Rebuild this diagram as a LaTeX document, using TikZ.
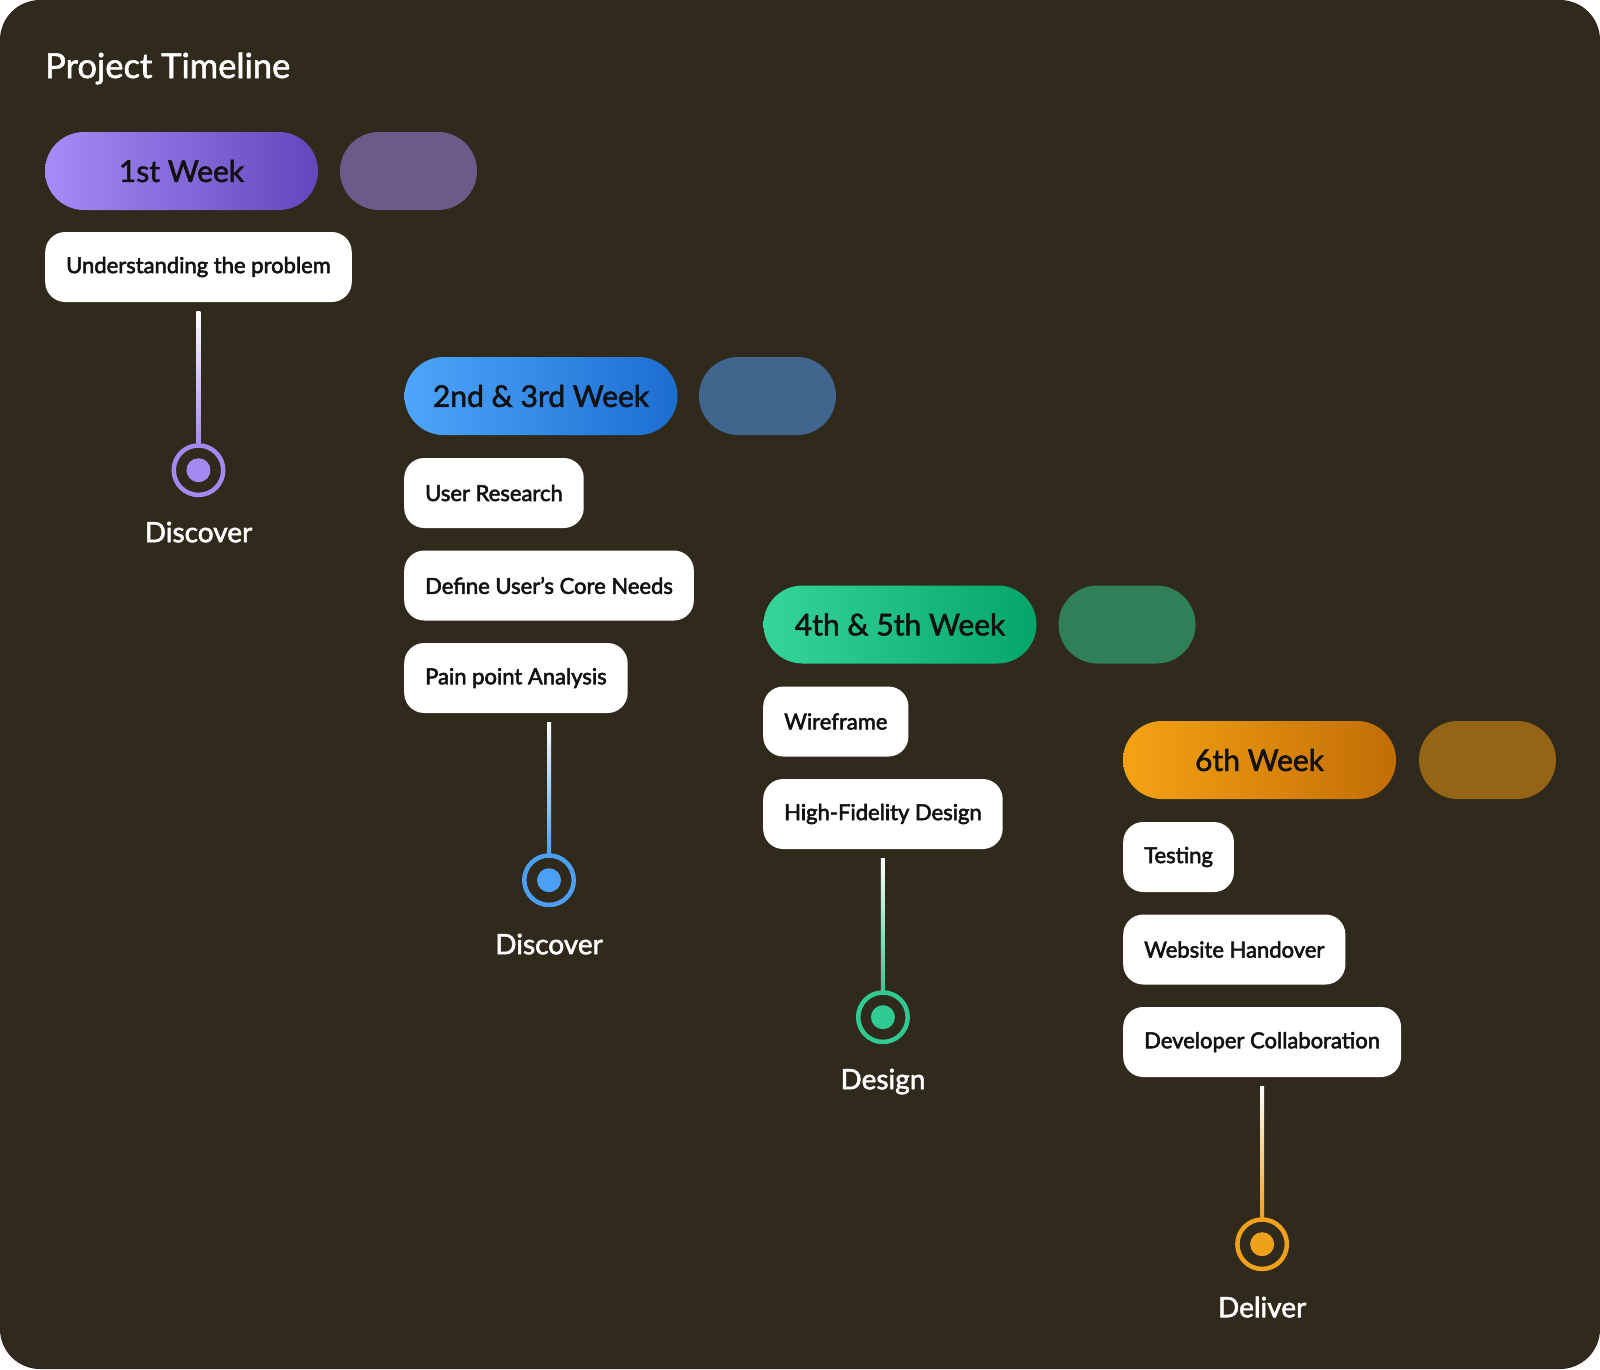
\documentclass[tikz,border=0pt]{standalone}
\usepackage{fontspec}
\setmainfont{Lato}
\usetikzlibrary{calc}
\newcommand\heavytext[1]{\special{pdf:literal direct 2 Tr 0.55 w}#1\special{pdf:literal direct 0 Tr}}
\definecolor{bg}{HTML}{2F2A1C}
\definecolor{ink}{HTML}{111111}
\definecolor{pa}{HTML}{A58CF7}\definecolor{pb}{HTML}{6246BC}\definecolor{pg}{HTML}{6B5A8A}\definecolor{pc}{HTML}{A38AF2}
\definecolor{ba}{HTML}{4DA6FB}\definecolor{bb}{HTML}{1C6DD0}\definecolor{bgh}{HTML}{41668E}\definecolor{bc}{HTML}{4B9FF4}
\definecolor{ga}{HTML}{36D59A}\definecolor{gb}{HTML}{05A56A}\definecolor{gg}{HTML}{2F8058}\definecolor{gc}{HTML}{30CB93}
\definecolor{oa}{HTML}{F5A314}\definecolor{ob}{HTML}{C26D06}\definecolor{og}{HTML}{956515}\definecolor{oc}{HTML}{F0A11C}
\begin{document}
\begin{tikzpicture}[x=1pt,y=-1pt,
  pill/.style={rounded corners=39pt, minimum width=273pt, minimum height=78pt, inner sep=0pt,
    font=\fontsize{30}{36}\selectfont, text=ink},
  ghost/.style={fill=#1, rounded corners=39pt, minimum width=137pt, minimum height=78pt, inner sep=0pt},
  taskbox/.style={fill=white, rounded corners=20pt, minimum height=70pt, inner xsep=21pt, inner ysep=0pt,
    anchor=west, font=\fontsize{22}{26}\selectfont, text=ink},
  marker/.style={circle, draw=#1, line width=4.5pt, minimum size=49.5pt, inner sep=0pt},
  stagelabel/.style={text=white, anchor=base, font=\fontsize{28}{32}\selectfont}]
\useasboundingbox (0,0) rectangle (1600,1369);
\fill[white] (0,0) rectangle (1600,1369);
\fill[bg, rounded corners=40pt] (0,0) rectangle (1600,1369);

\node[anchor=base west, text=white, font=\fontsize{34.5}{40}\selectfont, inner sep=0pt] (title) at (45,78) {\heavytext{Project Timeline}};

% Stage 1
\node[pill, left color=pa, right color=pb] (w1) at (181.5,171) {\heavytext{1st Week}};
\node[ghost=pg] (g1) at (408.5,171) {};
\node[taskbox] (t11) at (45,267) {\heavytext{Understanding the problem}};
\coordinate (s1) at ($(t11.south)+(0,9)$);
\node[marker=pc] (m1) at ($(t11.south)+(0,168)$) {};
\fill[pc] (m1.center) circle (12pt);
\shade[top color=white, bottom color=pc] ($(s1)+(-2,0)$) rectangle ($(m1.north)+(2,0)$);
\node[stagelabel] (l1) at ($(m1.center)+(0,72)$) {\heavytext{Discover}};

% Stage 2
\node[pill, left color=ba, right color=bb] (w2) at (541,396) {\heavytext{2nd \& 3rd Week}};
\node[ghost=bgh] (g2) at (767.5,396) {};
\node[taskbox] (t21) at (404,493) {\heavytext{User Research}};
\node[taskbox] (t22) at (404,585.5) {\heavytext{Define User’s Core Needs}};
\node[taskbox] (t23) at (404,678) {\heavytext{Pain point Analysis}};
\coordinate (s2) at ($(t22.south |- t23.south)+(0,9)$);
\node[marker=bc] (m2) at ($(t22.south |- t23.south)+(0,167)$) {};
\fill[bc] (m2.center) circle (12pt);
\shade[top color=white, bottom color=bc] ($(s2)+(-2,0)$) rectangle ($(m2.north)+(2,0)$);
\node[stagelabel] (l2) at ($(m2.center)+(0,74)$) {\heavytext{Discover}};

% Stage 3
\node[pill, left color=ga, right color=gb] (w3) at (900,624.5) {\heavytext{4th \& 5th Week}};
\node[ghost=gg] (g3) at (1127,624.5) {};
\node[taskbox] (t31) at (763,721.5) {\heavytext{Wireframe}};
\node[taskbox] (t32) at (763,814) {\heavytext{High-Fidelity Design}};
\coordinate (s3) at ($(t32.south)+(0,9)$);
\node[marker=gc] (m3) at ($(t32.south)+(0,168)$) {};
\fill[gc] (m3.center) circle (12pt);
\shade[top color=white, bottom color=gc] ($(s3)+(-2,0)$) rectangle ($(m3.north)+(2,0)$);
\node[stagelabel] (l3) at ($(m3.center)+(0,72)$) {\heavytext{Design}};

% Stage 4
\node[pill, left color=oa, right color=ob] (w4) at (1259.5,760) {\heavytext{6th Week}};
\node[ghost=og] (g4) at (1487.5,760) {};
\node[taskbox] (t41) at (1123,857) {\heavytext{Testing}};
\node[taskbox] (t42) at (1123,949.5) {\heavytext{Website Handover}};
\node[taskbox] (t43) at (1123,1042) {\heavytext{Developer Collaboration}};
\coordinate (s4) at ($(t43.south)+(0,9)$);
\node[marker=oc] (m4) at ($(t43.south)+(0,167)$) {};
\fill[oc] (m4.center) circle (12pt);
\shade[top color=white, bottom color=oc] ($(s4)+(-2,0)$) rectangle ($(m4.north)+(2,0)$);
\node[stagelabel] (l4) at ($(m4.center)+(0,73)$) {\heavytext{Deliver}};
\end{tikzpicture}
\end{document}
